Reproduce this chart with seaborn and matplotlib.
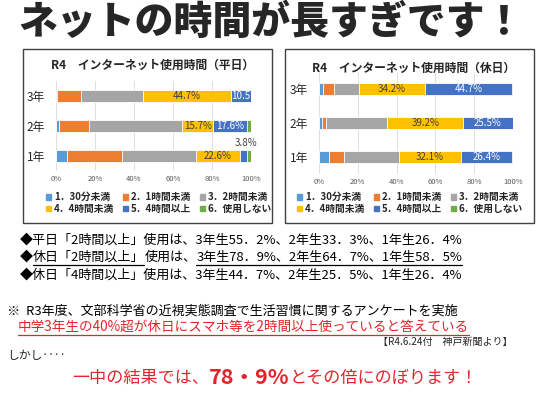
import numpy as np
import pandas as pd
import seaborn as sns
import matplotlib
matplotlib.use('Agg')
import matplotlib.pyplot as plt
from matplotlib.patches import Rectangle, Patch
from matplotlib.lines import Line2D

# data (%), rows in order 3年, 2年, 1年
grades = ['3年', '2年', '1年']
legend_labels = ['1．30分未満', '2．1時間未満', '3．2時間未満',
                 '4．4時間未満', '5．4時間以上', '6．使用しない']
colors = ['#5B9BD5', '#ED7D31', '#A5A5A5', '#FFC000', '#4472C4', '#70AD47']

# 平日
wd_lt30 = [0.3, 1.5, 5.5]
wd_lt1h = [12.3, 15.5, 28.2]
wd_lt2h = [32.2, 47.8, 38.1]
wd_lt4h = [44.7, 15.7, 22.6]
wd_ge4h = [10.5, 17.6, 3.8]
wd_none = [0.0, 1.9, 1.8]

# 休日
ho_lt30 = [2.1, 1.4, 5.0]
ho_lt1h = [5.5, 2.0, 7.9]
ho_lt2h = [13.0, 31.7, 28.3]
ho_lt4h = [34.2, 39.2, 32.1]
ho_ge4h = [44.7, 25.5, 26.4]
ho_none = [0.5, 0.2, 0.3]

W, H = 549, 397
RED = '#E3242B'

sns.set_theme(style='white')
plt.rcParams['font.family'] = ['Noto Sans CJK JP', 'DejaVu Sans']

fig = plt.figure(figsize=(W / 100, H / 100), dpi=100)
fig.patch.set_facecolor('white')


def px_rect(x0, y0, x1, y1):
    return [x0 / W, 1 - y1 / H, (x1 - x0) / W, (y1 - y0) / H]


def draw_chart(ax, parts, bw, blue_label_fmt):
    cum = np.cumsum(np.array(parts), axis=0)
    # stacked bars drawn back to front
    for i in range(5, -1, -1):
        df = pd.DataFrame({'grade': grades, 'value': cum[i]})
        sns.barplot(data=df, x='value', y='grade', orient='h', color=colors[i],
                    saturation=1, width=bw, edgecolor='white', linewidth=0.6,
                    ax=ax, zorder=3)
    ax.set_xlim(0, 100)
    ax.set_ylim(2.5, -0.5)
    ax.set_xticks(range(0, 101, 20))
    ax.set_xticklabels([f'{v}%' for v in range(0, 101, 20)], fontsize=5.5, color='#595959')
    ax.tick_params(axis='y', labelsize=8.5, length=0, pad=8)
    ax.tick_params(axis='x', length=0, pad=3)
    ax.set_xlabel('')
    ax.set_ylabel('')
    ax.grid(axis='x', color='#D9D9D9', lw=0.6, zorder=0)
    for s in ax.spines.values():
        s.set_visible(False)
    ax.set_facecolor('none')
    # labels for 4 and 5
    for r in range(3):
        v4 = parts[3][r]
        ax.text(cum[2][r] + v4 / 2, r, f'{v4:.1f}%', ha='center', va='center',
                fontsize=7, color='#404040', zorder=5)
        v5 = parts[4][r]
        blue_label_fmt(ax, r, cum[3][r], v5)


def wd_blue(ax, r, start, v):
    if r == 0:
        ax.text(start + v / 2, r, f'{v:.1f}', ha='center', va='center',
                fontsize=7, color='white', zorder=5)
    elif r == 1:
        ax.text(start + v / 2, r, f'{v:.1f}%', ha='center', va='center',
                fontsize=7, color='white', zorder=5)
    else:
        ax.text(start + v / 2 + 1, r - 0.42, f'{v:.1f}%', ha='center', va='center',
                fontsize=7, color='#404040', zorder=5)


def ho_blue(ax, r, start, v):
    ax.text(start + v / 2, r, f'{v:.1f}%', ha='center', va='center',
            fontsize=7, color='white', zorder=5)


# boxes
for x0, x1 in [(23, 272), (285, 534)]:
    fig.patches.append(Rectangle((x0 / W, 1 - 223 / H), (x1 - x0) / W, 174 / H,
                                 transform=fig.transFigure, fill=False,
                                 edgecolor='#404040', lw=1))

ax1 = fig.add_axes(px_rect(56, 81, 251, 171))
draw_chart(ax1, [wd_lt30, wd_lt1h, wd_lt2h, wd_lt4h, wd_ge4h, wd_none], 0.4, wd_blue)
ax2 = fig.add_axes(px_rect(319, 72, 513, 174))
draw_chart(ax2, [ho_lt30, ho_lt1h, ho_lt2h, ho_lt4h, ho_ge4h, ho_none], 0.35, ho_blue)

fig.text(153 / W, 1 - 65 / H, 'R4　インターネット使用時間（平日）', fontsize=8.5,
         fontweight='bold', ha='center', va='center')
fig.text(414 / W, 1 - 68 / H, 'R4　インターネット使用時間（休日）', fontsize=8.5,
         fontweight='bold', ha='center', va='center')

# legends (row-wise order)
order = [0, 3, 1, 4, 2, 5]
handles = [Patch(color=colors[i]) for i in order]
labs = [legend_labels[i] for i in order]
for cx in [159, 410]:
    fig.legend(handles, labs, ncol=3, loc='center', frameon=False,
               bbox_to_anchor=(cx / W, 1 - 203 / H),
               prop={'weight': 'bold', 'size': 7},
               handlelength=0.5, handleheight=0.5, handletextpad=0.3,
               columnspacing=0.9, labelspacing=0.15)

# headline
fig.text(18 / W, 1 - 22 / H, 'ネットの時間が長すぎです！', fontsize=28,
         fontweight='black', ha='left', va='center')

renderer = fig.canvas.get_renderer()


def text_runs(x, y, runs, size, color='black', ul_y=None, weight='normal'):
    for s, ul in runs:
        t = fig.text(x / W, 1 - y / H, s, fontsize=size, color=color,
                     fontweight=weight, ha='left', va='center')
        bb = t.get_window_extent(renderer)
        if ul:
            fig.add_artist(Line2D([bb.x0 / W, bb.x1 / W], [1 - ul_y / H] * 2,
                                  color=color, lw=0.9))
        x = bb.x1


text_runs(20, 240, [('◆平日「2時間以上」使用は、3年生55．2%、2年生33．3%、1年生26．4%', False)], 9.4)
text_runs(20, 257, [('◆', False), ('休日「2時間以上」', True), ('使用は、', False),
                    ('3年生78．9%、2年生64．7%、1年生58．5%', True)], 9.4, ul_y=265)
text_runs(20, 275, [('◆休日「4時間以上」使用は、3年生44．7%、2年生25．5%、1年生26．4%', False)], 9.4)

text_runs(7, 311, [('※  R3年度、文部科学省の近視実態調査で生活習慣に関するアンケートを実施', False)], 9.4)
text_runs(18, 328, [('中学3年生の40%超が休日にスマホ等を2時間以上使っていると答えている', True)], 9.8,
          color=RED, ul_y=335)
fig.text(513 / W, 1 - 342 / H, '【R4.6.24付　神戸新聞より】', fontsize=7.2,
         ha='right', va='center')
fig.text(7 / W, 1 - 355 / H, 'しかし‥‥', fontsize=8.5, ha='left', va='center')

# big red conclusion
x = 72
for s, sz, wt in [('一中の結果では、', 12.3, 'normal'), ('78・9%', 15.5, 'bold'),
                  ('とその倍にのぼります！', 12.3, 'normal')]:
    t = fig.text(x / W, 1 - 378 / H, s, fontsize=sz, color=RED, fontweight=wt,
                 ha='left', va='center')
    x = t.get_window_extent(renderer).x1

fig.savefig('out.png', dpi=100, facecolor='white')
